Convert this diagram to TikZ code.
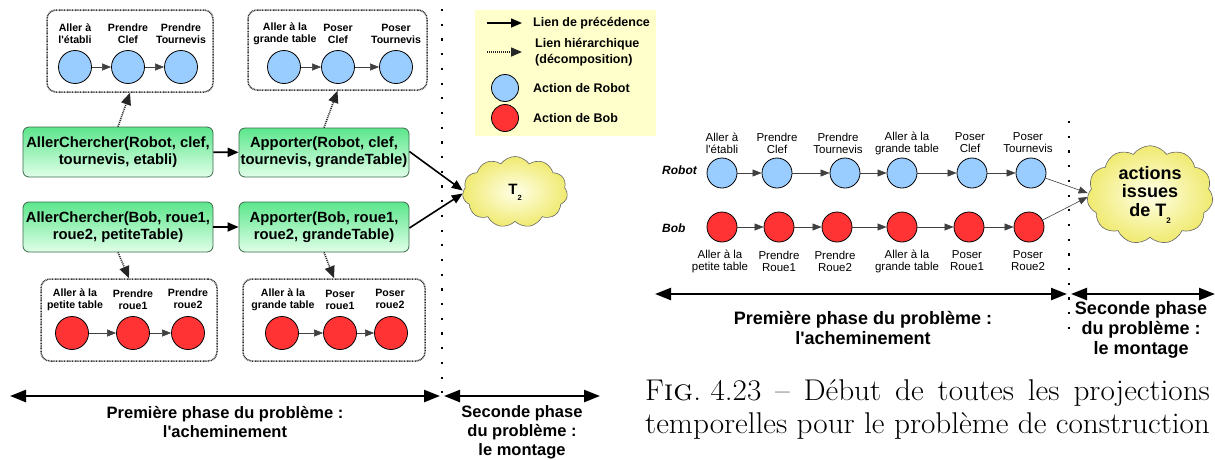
\documentclass[tikz,border=0pt]{standalone}
\usepackage{fontspec}
\usepackage{graphicx}
\newfontfamily\arial{Liberation Sans}[Ligatures=TeXOff]
\usetikzlibrary{arrows.meta,shapes.symbols,calc}
\definecolor{robotblue}{HTML}{99CCFF}
\definecolor{bobred}{HTML}{FF3333}
\definecolor{legendyellow}{HTML}{FFFFCC}
\definecolor{cloudout}{HTML}{F0EA70}
\definecolor{cloudin}{HTML}{FFFFE8}
\definecolor{gtop}{HTML}{5CE68C}
\definecolor{gbot}{HTML}{E0FFE8}
\definecolor{gedge}{HTML}{3A6A4A}
\newsavebox\capbox
\begin{document}
\begin{tikzpicture}[x=1pt,y=-1pt,
  lbl/.style={font=\arial\bfseries\fontsize{10.6}{11.8}\selectfont, align=center, inner sep=0pt},
  rlbl/.style={font=\arial\fontsize{11.5}{12}\selectfont, align=center, inner sep=0pt},
  bact/.style={circle, draw, line width=0.8pt, fill=robotblue, minimum size=33pt, inner sep=0pt},
  ract/.style={bact, fill=bobred},
  rbact/.style={bact, minimum size=30pt},
  rract/.style={ract, minimum size=30pt},
  prec/.style={-{Triangle[length=9pt,width=7pt]}, line width=0.6pt, draw=black!75},
  thick prec/.style={-{Triangle[length=11pt,width=9pt]}, line width=1.8pt},
  hier/.style={-{Triangle[length=12pt,width=10pt]}, line width=1.6pt, dash pattern=on 1pt off 1pt, draw=black!85},
  dbox/.style={draw=black!80, dash pattern=on 0.9pt off 0.7pt, line width=1.5pt, rounded corners=9pt, inner sep=0pt},
  gbox/.style={draw=gedge, line width=0.8pt, rounded corners=6pt, top color=gtop, bottom color=gbot, inner sep=0pt, align=center, font=\arial\bfseries\fontsize{14.8}{17}\selectfont},
  cloudy/.style={cloud, cloud puffs=11, cloud puff arc=110, draw=black!60, line width=0.6pt, inner color=cloudin, outer color=cloudout, inner sep=0pt, align=center},
  vdots/.style={line width=2.2pt, dash pattern=on 2.2pt off 12.5pt, draw=black},
  phase/.style={{Triangle[length=16pt,width=12pt]}-{Triangle[length=16pt,width=12pt]}, line width=2.4pt},
  ptext/.style={font=\arial\bfseries\fontsize{16.5}{19}\selectfont, align=center, inner sep=0pt},
  ptextb/.style={font=\arial\bfseries\fontsize{18}{20}\selectfont, align=center, inner sep=0pt},
  legtext/.style={font=\arial\bfseries\fontsize{12.5}{16}\selectfont, align=left, anchor=west, inner sep=0pt},
  captext/.style={anchor=base west, inner sep=0pt, font=\fontsize{30}{33}\selectfont}
]
\useasboundingbox (0,0) rectangle (1215,459);

% ---------------- Left diagram ----------------
% top-left decomposition box
\node[dbox, minimum width=166pt, minimum height=82pt] (dTL) at (130,51) {};
\node[lbl] (lTL1) at (75,34) {Aller à\\l'établi};
\node[lbl] (lTL2) at (128,34) {Prendre\\Clef};
\node[lbl] (lTL3) at (181,34) {Prendre\\Tournevis};
\node[bact] (cTL1) at (75,67) {};
\node[bact] (cTL2) at (128,67) {};
\node[bact] (cTL3) at (181,67) {};
\draw[prec] (cTL1) -- (cTL2);
\draw[prec] (cTL2) -- (cTL3);

% top-right decomposition box
\node[dbox, minimum width=179pt, minimum height=80pt] (dTR) at (337.5,50) {};
\node[lbl] (lTR1) at (285,34) {Aller à la\\grande table};
\node[lbl] (lTR2) at (338,34) {Poser\\Clef};
\node[lbl] (lTR3) at (396,34) {Poser\\Tournevis};
\node[bact] (cTR1) at (284,67) {};
\node[bact] (cTR2) at (338,67) {};
\node[bact] (cTR3) at (396,67) {};
\draw[prec] (cTR1) -- (cTR2);
\draw[prec] (cTR2) -- (cTR3);

% bottom-left decomposition box
\node[dbox, minimum width=176pt, minimum height=82pt] (dBL) at (129,320) {};
\node[lbl] (lBL1) at (75,300) {Aller à la\\petite table};
\node[lbl] (lBL2) at (133,300) {Prendre\\roue1};
\node[lbl] (lBL3) at (188,299) {Prendre\\roue2};
\node[ract] (cBL1) at (72,333) {};
\node[ract] (cBL2) at (133,333) {};
\node[ract] (cBL3) at (188,333) {};
\draw[prec] (cBL1) -- (cBL2);
\draw[prec] (cBL2) -- (cBL3);

% bottom-right decomposition box
\node[dbox, minimum width=182pt, minimum height=82pt] (dBR) at (334,320) {};
\node[lbl] (lBR1) at (283,300) {Aller à la\\grande table};
\node[lbl] (lBR2) at (340,300) {Poser\\roue1};
\node[lbl] (lBR3) at (390,299) {Poser\\roue2};
\node[ract] (cBR1) at (282,333) {};
\node[ract] (cBR2) at (340,333) {};
\node[ract] (cBR3) at (391,333) {};
\draw[prec] (cBR1) -- (cBR2);
\draw[prec] (cBR2) -- (cBR3);

% green task boxes
\node[gbox, minimum width=190pt, minimum height=50pt] (gA) at (118,152) {AllerChercher(Robot, clef,\\tournevis, etabli)};
\node[gbox, minimum width=170pt, minimum height=49pt] (gB) at (324,152.5) {Apporter(Robot, clef,\\tournevis, grandeTable)};
\node[gbox, minimum width=190pt, minimum height=50pt] (gC) at (118,227) {AllerChercher(Bob, roue1,\\roue2, petiteTable)};
\node[gbox, minimum width=170pt, minimum height=50pt] (gD) at (324,227) {Apporter(Bob, roue1,\\roue2, grandeTable)};
\draw[thick prec] (gA) -- (gB);
\draw[thick prec] (gC) -- (gD);

% hierarchical links
\draw[hier] (gA.north) -- (dTL.south);
\draw[hier] (gB.north) -- (dTR.south);
\draw[hier] (gC.south) -- (dBL.north);
\draw[hier] (gD.south) -- (dBR.north);

% cloud T2
\node[cloudy, minimum width=105pt, minimum height=71pt, font=\arial\bfseries\fontsize{15}{16}\selectfont] (T) at (515,192) {T\raisebox{-0.4em}{\fontsize{7.5}{7.5}\selectfont 2}};
\draw[thick prec, line width=1.6pt] ([yshift=1pt]gB.east) -- ([yshift=1.5pt]T.west);
\draw[thick prec, line width=1.6pt] ([yshift=-1pt]gD.east) -- ([yshift=-1.5pt]T.west);

% vertical separator
\coordinate (sepL1) at (442,9);
\coordinate (sepL2) at (442,396);
\draw[vdots] (sepL1) -- (sepL2);

% legend
\fill[legendyellow] (475,10) rectangle (656,136);
\coordinate (legA1) at (487,23);
\coordinate (legA2) at (522,23);
\draw[thick prec, line width=1.5pt] (legA1) -- (legA2);
\node[legtext] (legT1) at (533,23) {Lien de précédence};
\coordinate (legB1) at (487,52);
\coordinate (legB2) at (522,52);
\draw[hier, line width=1.5pt, -{Triangle[length=11pt,width=9pt]}] (legB1) -- (legB2);
\node[legtext] (legT2) at (535,52) {Lien hiérarchique\\(décomposition)};
\node[bact, minimum size=27pt] (legC1) at (505,88) {};
\node[legtext] (legT3) at (533,88) {Action de Robot};
\node[ract, minimum size=27pt] (legC2) at (505,118) {};
\node[legtext] (legT4) at (533,118) {Action de Bob};

% phases (left)
\coordinate (phL1) at (10,396);
\coordinate (phL2) at (440,396);
\coordinate (phL3) at (444,396);
\coordinate (phL4) at (600,396);
\draw[phase] (phL1) -- (phL2);
\draw[phase] (phL3) -- (phL4);
\node[ptext] (pt1) at (225,422) {Première phase du problème :\\l'acheminement};
\node[ptext] (pt2) at (522,432) {Seconde phase\\du problème :\\le montage};

% ---------------- Right diagram ----------------
\node[font=\arial\bfseries\itshape\fontsize{12}{14}\selectfont, anchor=west, inner sep=0pt] (robot) at (662,170) {Robot};
\node[font=\arial\bfseries\itshape\fontsize{12}{14}\selectfont, anchor=west, inner sep=0pt] (bob) at (662,228) {Bob};

\node[rbact] (r1) at (722,173) {};
\node[rbact] (r2) at (777,173) {};
\node[rbact] (r3) at (845,173) {};
\node[rbact] (r4) at (902,173) {};
\node[rbact] (r5) at (972,173) {};
\node[rbact] (r6) at (1031,173) {};
\node[rract] (b1) at (722,227) {};
\node[rract] (b2) at (779,227) {};
\node[rract] (b3) at (837,227) {};
\node[rract] (b4) at (902,227) {};
\node[rract] (b5) at (969,227) {};
\node[rract] (b6) at (1029,227) {};
\foreach \a/\b in {r1/r2,r2/r3,r3/r4,r4/r5,r5/r6,b1/b2,b2/b3,b3/b4,b4/b5,b5/b6}
  \draw[prec] (\a) -- (\b);

\node[rlbl] (rl1) at (722,143) {Aller à\\l'établi};
\node[rlbl] (rl2) at (777,143) {Prendre\\Clef};
\node[rlbl] (rl3) at (838,143) {Prendre\\Tournevis};
\node[rlbl] (rl4) at (907,143) {Aller à la\\grande table};
\node[rlbl] (rl5) at (970,143) {Poser\\Clef};
\node[rlbl] (rl6) at (1028,143) {Poser\\Tournevis};
\node[rlbl] (bl1) at (720,261) {Aller à la\\petite table};
\node[rlbl] (bl2) at (779,261) {Prendre\\Roue1};
\node[rlbl] (bl3) at (835,261) {Prendre\\Roue2};
\node[rlbl] (bl4) at (907,261) {Aller à la\\grande table};
\node[rlbl] (bl5) at (967,261) {Poser\\Roue1};
\node[rlbl] (bl6) at (1028,261) {Poser\\Roue2};

\node[cloudy, minimum width=126pt, minimum height=96pt, font=\arial\bfseries\fontsize{18}{18.5}\selectfont] (T2) at (1150,195) {actions\\issues\\de T\raisebox{-0.4em}{\fontsize{8}{8}\selectfont 2}};
\draw[prec] (r6) -- ([yshift=2pt]T2.west);
\draw[prec] (b6) -- ([yshift=-2pt]T2.west);

\coordinate (sepR1) at (1069,121);
\coordinate (sepR2) at (1069,340);
\draw[vdots] (sepR1) -- (sepR2);

\coordinate (phR1) at (655,294);
\coordinate (phR2) at (1067,294);
\coordinate (phR3) at (1071,294);
\coordinate (phR4) at (1215,294);
\draw[phase] (phR1) -- (phR2);
\draw[phase] (phR3) -- (phR4);
\node[ptextb] (pt3) at (863,328) {Première phase du problème :\\l'acheminement};
\node[ptextb] (pt4) at (1141,330) {Seconde phase\\du problème :\\le montage};

% caption
\node[captext] (cap1) at (645,400)
  {\scalebox{1.04}[1]{\sbox\capbox{temporelles pour le problème de construction}%
   \hbox to \wd\capbox{F\textsc{ig}.\ 4.23\hfil --\hfil Début\hfil de\hfil toutes\hfil les\hfil projections}}};
\node[captext] (cap2) at (645,433) {\scalebox{1.04}[1]{temporelles pour le problème de construction}};
\end{tikzpicture}
\end{document}
